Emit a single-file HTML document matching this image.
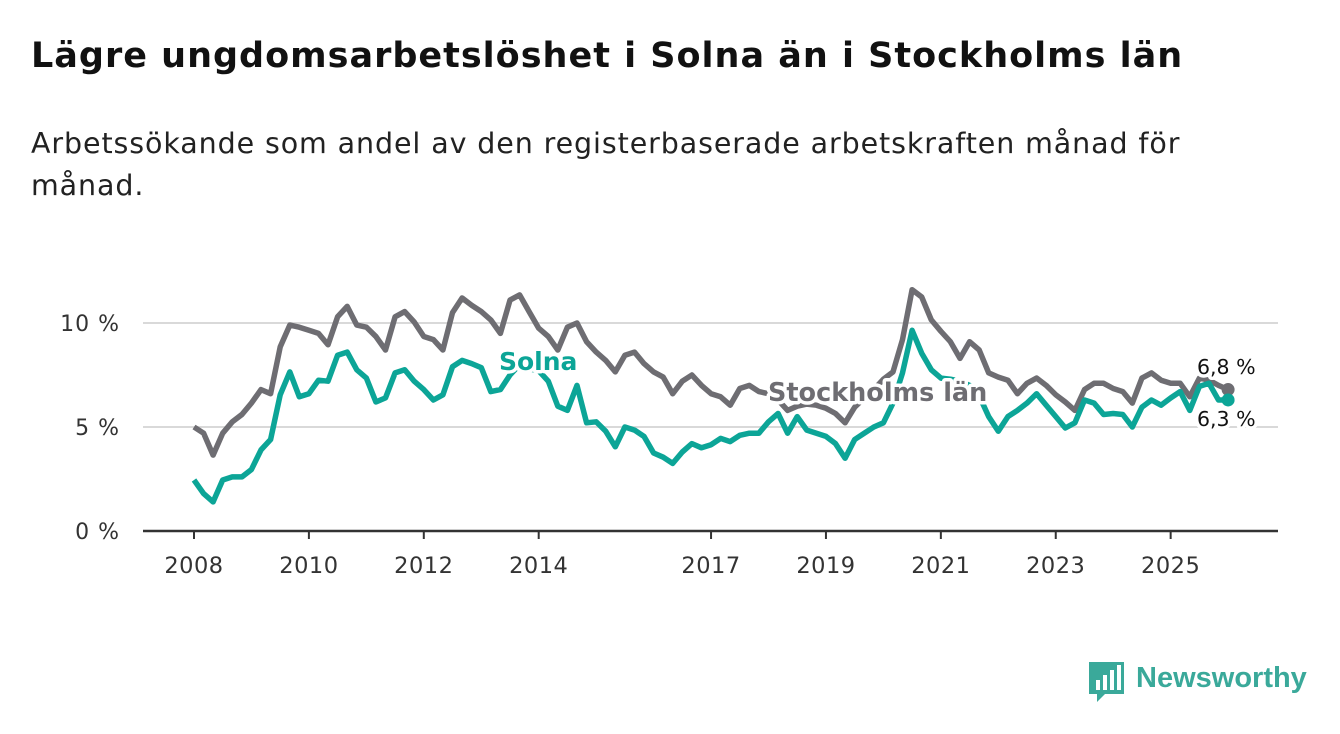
<!DOCTYPE html>
<html><head><meta charset="utf-8">
<style>
body{margin:0;background:#fff;width:1340px;height:734px;overflow:hidden;font-family:"DejaVu Sans",sans-serif;}
#title{position:absolute;left:31px;top:36px;font-size:35px;font-weight:bold;color:#111;margin:0;letter-spacing:1px;white-space:nowrap}
#subtitle{position:absolute;left:31px;top:123px;font-size:28.5px;color:#222;line-height:42px;width:1280px;letter-spacing:0.9px}
svg{position:absolute;left:0;top:0}
</style></head><body>
<h1 id="title">Lägre ungdomsarbetslöshet i Solna än i Stockholms län</h1>
<div id="subtitle">Arbetssökande som andel av den registerbaserade arbetskraften månad för<br>månad.</div>
<svg id="chart" width="1340" height="734"></svg>
<script>
// bimonthly values, Jan 2008 .. Jan 2026
const startYear = 2008;
const stepMonths = 2;
const yTicks = [0,5,10];
const yTickLabels = ["0 %","5 %","10 %"];
const xTicks = [2008,2010,2012,2014,2017,2019,2021,2023,2025];
const stockholm = [5.0,4.7,3.65,4.7,5.25,5.6, 6.15,6.8,6.6,8.85,9.9,9.8, 9.65,9.5,8.95,10.3,10.8,9.9, 9.8,9.35,8.7,10.3,10.55,10.05, 9.35,9.2,8.7,10.5,11.2,10.85, 10.55,10.15,9.5,11.1,11.35,10.55, 9.75,9.35,8.7,9.8,10.0,9.1, 8.6,8.2,7.65,8.45,8.6,8.05, 7.65,7.4,6.6,7.2,7.5,7.0, 6.6,6.45,6.05,6.85,7.0,6.7, 6.6,6.3,5.8,6.0,6.1,6.05, 5.9,5.65,5.2,5.95,6.4,6.8, 7.3,7.65,9.2,11.6,11.25,10.15, 9.6,9.1,8.3,9.1,8.7,7.6, 7.4,7.25,6.6,7.1,7.35,7.0, 6.55,6.2,5.8,6.8,7.1,7.1, 6.85,6.7,6.15,7.35,7.6,7.25, 7.1,7.1,6.45,7.35,7.25,7.0, 6.8];
const solna = [2.45,1.8,1.4,2.45,2.6,2.6, 2.95,3.9,4.4,6.55,7.65,6.45, 6.6,7.25,7.2,8.45,8.6,7.75, 7.35,6.2,6.4,7.6,7.75,7.2, 6.8,6.3,6.55,7.9,8.2,8.05, 7.85,6.7,6.8,7.5,8.0,7.8, 7.7,7.2,6.0,5.8,7.0,5.2, 5.25,4.8,4.05,5.0,4.85,4.55, 3.75,3.55,3.25,3.8,4.2,4.0, 4.15,4.45,4.3,4.6,4.7,4.7, 5.25,5.65,4.7,5.5,4.85,4.7, 4.55,4.2,3.5,4.4,4.7,5.0, 5.2,6.15,7.6,9.65,8.55,7.75, 7.35,7.3,7.2,7.0,6.5,5.5, 4.8,5.5,5.8,6.15,6.6,6.05, 5.5,4.95,5.2,6.3,6.15,5.6, 5.65,5.6,5.0,5.95,6.3,6.05, 6.4,6.7,5.8,6.95,7.1,6.3, 6.3];
const lastLabels = ["6,8 %","6,3 %"];

const NS='http://www.w3.org/2000/svg';
const svg=document.getElementById('chart');
const x0=194, pxYear=57.45, y0=531, pxPct=20.8;
function xScale(year){return x0+(year-2008)*pxYear;}
function yScale(v){return y0-v*pxPct;}
function mk(tag,attrs){const e=document.createElementNS(NS,tag);for(const k in attrs)e.setAttribute(k,attrs[k]);svg.appendChild(e);return e;}

yTicks.forEach((t,i)=>{
  if(t>0){const g=mk('line',{x1:143,x2:1278,y1:yScale(t),y2:yScale(t),stroke:'#d9d9d9','stroke-width':2});
  
  }
  const l=mk('text',{x:120,y:yScale(t)+8,'text-anchor':'end','font-size':22,fill:'#333','letter-spacing':'1','font-family':'DejaVu Sans, sans-serif'});
  l.textContent=yTickLabels[i];
  
  
});
const ax=mk('line',{x1:143,x2:1278,y1:y0,y2:y0,stroke:'#333','stroke-width':2.5});


xTicks.forEach(t=>{
  const tk=mk('line',{x1:xScale(t),x2:xScale(t),y1:y0,y2:y0+8,stroke:'#333','stroke-width':2});
  
  
  const l=mk('text',{x:xScale(t),y:573,'text-anchor':'middle','font-size':22.5,fill:'#333','letter-spacing':'0.5','font-family':'DejaVu Sans, sans-serif'});
  l.textContent=t;
  
  
});
function pts(arr){return arr.map((v,i)=>xScale(startYear+i*stepMonths/12).toFixed(1)+','+yScale(v).toFixed(1)).join(' ');}
const sLine=mk('polyline',{points:pts(stockholm),fill:'none',stroke:'#6e6d72','stroke-width':5.5,'stroke-linejoin':'round'});


const soLine=mk('polyline',{points:pts(solna),fill:'none',stroke:'#0ca597','stroke-width':5.5,'stroke-linejoin':'round'});


const lastX=xScale(startYear+(stockholm.length-1)*stepMonths/12);
const d1=mk('circle',{cx:lastX,cy:yScale(stockholm[stockholm.length-1]),r:6.5,fill:'#6e6d72'});


const d2=mk('circle',{cx:lastX,cy:yScale(solna[solna.length-1]),r:6.5,fill:'#0ca597'});


function lbl(txt,x,y,col,bold,size,name){
  const t=mk('text',{x:x,y:y,'font-size':size,fill:col,'font-weight':bold?'bold':'normal',stroke:'#fff','stroke-width':7,'paint-order':'stroke','stroke-linejoin':'round','font-family':'DejaVu Sans, sans-serif'});
  t.textContent=txt;
  
  
}
lbl('Solna',499,370,'#0ca597',true,25,'solna-label');
lbl('Stockholms län',768,401,'#6e6d72',true,25.5,'stockholm-label');
lbl(lastLabels[0],1197,374,'#111',false,20.5,'stockholm-last-value');
lbl(lastLabels[1],1197,426,'#111',false,20.5,'solna-last-value');
</script>
<div style="position:absolute;left:1089px;top:660px;font-family:'Liberation Sans',sans-serif">
<svg width="40" height="44" style="position:absolute;left:0;top:0">
<path d="M0 2 H35 V34 H16 L8 42 V34 H0 Z" fill="#3aa99a"/>
<rect x="7" y="20" width="4" height="10" fill="#fff"/><rect x="14" y="15" width="4" height="15" fill="#fff"/><rect x="21" y="10" width="4" height="20" fill="#fff"/><rect x="28" y="5" width="4" height="25" fill="#fff"/>
</svg>
<span style="position:absolute;left:47px;top:2px;font-size:29px;font-weight:bold;color:#3aa99a;white-space:nowrap">Newsworthy</span>
</div>
</body></html>
